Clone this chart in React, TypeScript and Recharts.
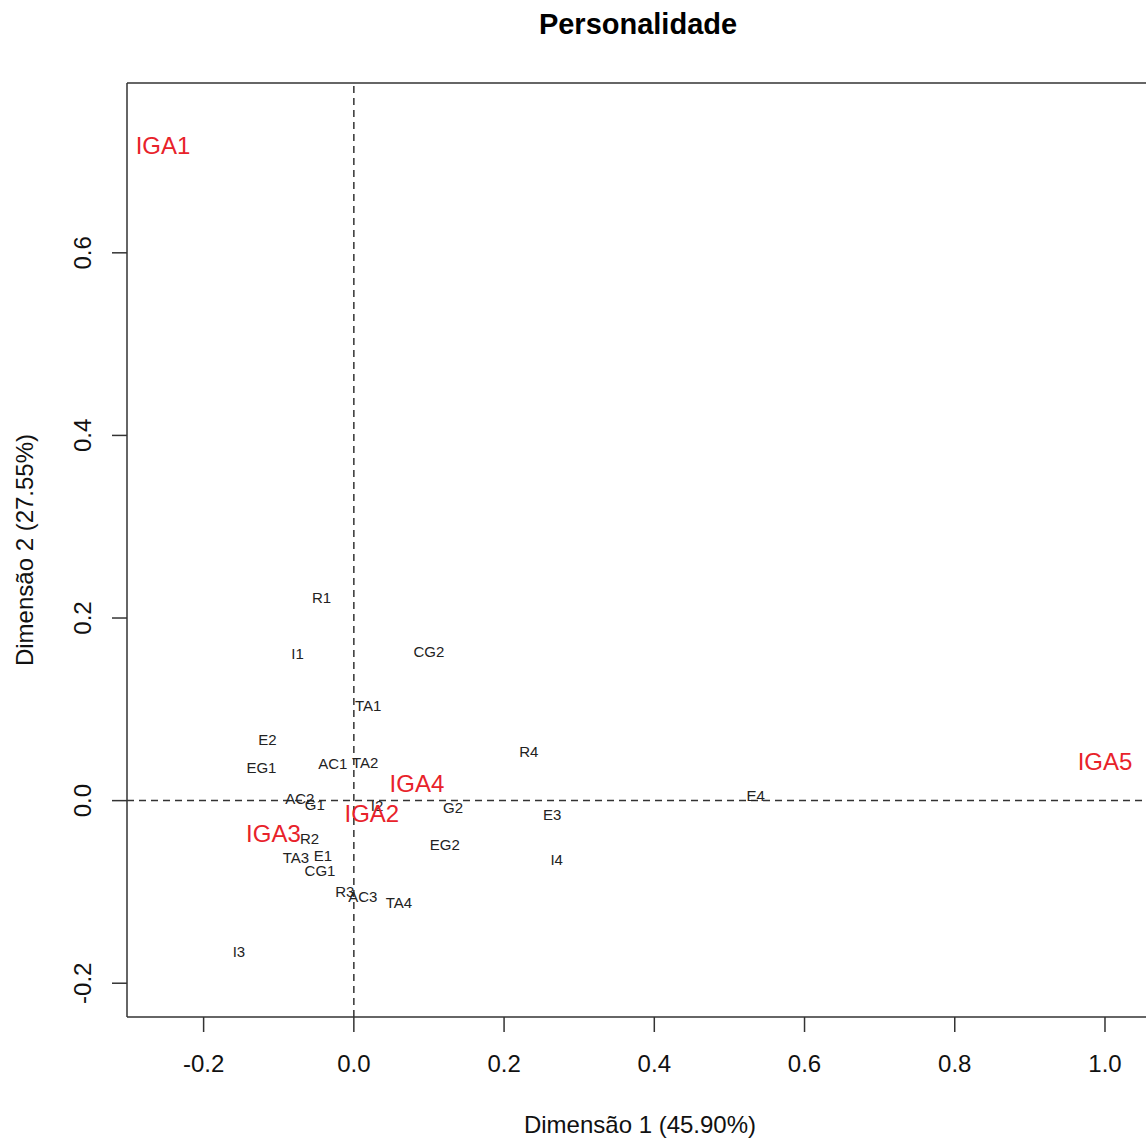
import {
  ScatterChart,
  Scatter,
  XAxis,
  YAxis,
  ReferenceLine,
} from 'recharts';

// Variable categories (black labels) and their coordinates
const varNames = [
  'R1', 'I1', 'CG2', 'TA1', 'E2', 'EG1', 'AC1', 'TA2', 'R4', 'E4',
  'AC2', 'G1', 'I2', 'G2', 'E3', 'R2', 'EG2', 'TA3', 'E1', 'CG1',
  'I4', 'R3', 'AC3', 'TA4', 'I3',
];
const varDim1 = [
  -0.043, -0.075, 0.1, 0.019, -0.115, -0.123, -0.028, 0.015, 0.233, 0.535,
  -0.072, -0.052, 0.031, 0.132, 0.264, -0.059, 0.121, -0.077, -0.041, -0.045,
  0.27, -0.012, 0.012, 0.06, -0.153,
];
const varDim2 = [
  0.223, 0.161, 0.163, 0.104, 0.067, 0.036, 0.041, 0.042, 0.054, 0.006,
  0.002, -0.004, -0.005, -0.008, -0.015, -0.042, -0.048, -0.062, -0.06, -0.076,
  -0.065, -0.1, -0.105, -0.112, -0.165,
];

// IGA groups (red labels)
const igaNames = ['IGA1', 'IGA2', 'IGA3', 'IGA4', 'IGA5'];
const igaDim1 = [-0.254, 0.024, -0.107, 0.084, 1.0];
const igaDim2 = [0.718, -0.014, -0.036, 0.019, 0.043];

const xTicks = [-0.2, 0, 0.2, 0.4, 0.6, 0.8, 1.0];
const yTicks = [-0.2, 0, 0.2, 0.4, 0.6];
const xDomain: [number, number] = [-0.302, 1.0546];
const yDomain: [number, number] = [-0.237, 0.786];

const FONT = '"Liberation Sans", Arial, sans-serif';
const AXIS = '#333';

const varData = varNames.map((name, i) => ({ name, x: varDim1[i], y: varDim2[i] }));
const igaData = igaNames.map((name, i) => ({ name, x: igaDim1[i], y: igaDim2[i] }));

function labelShape(color: string, size: number) {
  return (props: any) => (
    <text
      x={props.cx}
      y={props.cy}
      textAnchor="middle"
      dominantBaseline="central"
      fontSize={size}
      fill={color}
      fontFamily={FONT}
    >
      {props.payload.name}
    </text>
  );
}

// y tick labels are drawn vertical, like R's default
function YTick(props: any) {
  const { x, y, payload } = props;
  return (
    <text
      x={x}
      y={y}
      transform={`rotate(-90, ${x}, ${y})`}
      textAnchor="middle"
      fontSize={24}
      fill="#111"
      fontFamily={FONT}
    >
      {Number(payload.value).toFixed(1)}
    </text>
  );
}

export default function App() {
  return (
    <div style={{ position: 'absolute', left: 0, top: 0, width: 1146, height: 1140, background: '#fff' }}>
      <svg width={1146} height={1140} style={{ position: 'absolute', left: 0, top: 0 }}>
        <text x={638} y={34} textAnchor="middle" fontSize={29} fontWeight="bold" fontFamily={FONT} fill="#000">
          Personalidade
        </text>
        <text x={640} y={1133} textAnchor="middle" fontSize={24} fontFamily={FONT} fill="#111">
          Dimensão 1 (45.90%)
        </text>
        <text
          x={33}
          y={550}
          transform="rotate(-90, 33, 550)"
          textAnchor="middle"
          fontSize={24}
          fontFamily={FONT}
          fill="#111"
        >
          Dimensão 2 (27.55%)
        </text>
      </svg>
      <div style={{ position: 'absolute', left: 0, top: 0 }}>
        <ScatterChart width={1146} height={1140} margin={{ top: 83, right: 0, bottom: 0, left: 0 }}>
          <XAxis
            type="number"
            dataKey="x"
            domain={xDomain}
            allowDataOverflow
            ticks={xTicks}
            tickFormatter={(v: number) => v.toFixed(1)}
            height={123}
            tickSize={15}
            tickMargin={23}
            stroke={AXIS}
            strokeWidth={1.5}
            tick={{ fontSize: 24, fill: '#111', fontFamily: FONT }}
          />
          <YAxis
            type="number"
            dataKey="y"
            domain={yDomain}
            allowDataOverflow
            ticks={yTicks}
            width={127}
            tickSize={15}
            tickMargin={21}
            stroke={AXIS}
            strokeWidth={1.5}
            tick={<YTick />}
          />
          <ReferenceLine y={yDomain[1]} stroke={AXIS} strokeWidth={1.5} />
          <ReferenceLine x={0} stroke={AXIS} strokeWidth={1.5} strokeDasharray="7 5" />
          <ReferenceLine y={0} stroke={AXIS} strokeWidth={1.5} strokeDasharray="7 5" />
          <Scatter data={varData} shape={labelShape('#222', 15)} isAnimationActive={false} />
          <Scatter data={igaData} shape={labelShape('#e8222a', 24)} isAnimationActive={false} />
        </ScatterChart>
      </div>
    </div>
  );
}
